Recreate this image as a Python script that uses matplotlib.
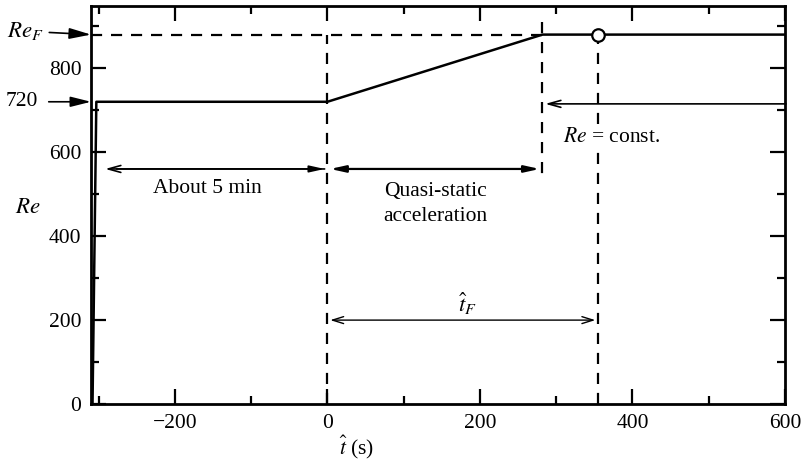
import matplotlib.pyplot as plt
from matplotlib.ticker import MultipleLocator

plt.rcParams['font.family'] = ['Liberation Serif', 'DejaVu Serif']
plt.rcParams['mathtext.fontset'] = 'stix'

# Re history: start-up, hold at 720, quasi-static ramp, hold at Re_F
t_curve = [-308, -303, 0, 282, 600]
re_curve = [0, 720, 720, 880, 880]

re_start = 720
re_final = 880
t_ramp_end = 282
t_final = 355
t_start = -300

x_ticks = [-200, 0, 200, 400, 600]
y_ticks = [0, 200, 400, 600, 800]

fs = 15.5

fig = plt.figure(figsize=(8.01, 4.65), dpi=100)
ax = fig.add_axes([0.1136, 0.131, 0.8664, 0.856])

ax.plot(t_curve, re_curve, color='black', lw=1.8)

dash = dict(color='black', lw=1.6, ls=(0, (5, 4)))
ax.plot([-310, t_ramp_end], [re_final, re_final], **dash)
ax.plot([0, 0], [0, re_final], **dash)
ax.plot([t_ramp_end, t_ramp_end], [910, 545], **dash)
ax.plot([t_final, t_final], [0, re_final], **dash)
ax.plot([t_final], [re_final], 'o', mfc='white', mec='black', ms=9, mew=1.6)

# interval arrows
ax.annotate('', xy=(t_start + 5, 560), xytext=(0, 560),
            arrowprops=dict(arrowstyle='->,head_length=0.9,head_width=0.25',
                            color='black', lw=1.2))
ax.annotate('', xy=(0, 560), xytext=(t_start + 20, 560),
            arrowprops=dict(arrowstyle='-|>,head_length=0.9,head_width=0.2',
                            color='black', lw=1.2))
ax.annotate('', xy=(0, 560), xytext=(t_ramp_end, 560),
            arrowprops=dict(arrowstyle='<|-|>,head_length=0.9,head_width=0.2',
                            color='black', lw=1.6))
ax.annotate('', xy=(0, 200), xytext=(t_final, 200),
            arrowprops=dict(arrowstyle='<->,head_length=0.8,head_width=0.25',
                            color='black', lw=1.0))
ax.annotate('', xy=(t_ramp_end, 715), xytext=(605, 715),
            arrowprops=dict(arrowstyle='->,head_length=0.9,head_width=0.25',
                            color='black', lw=1.2), annotation_clip=False)

ax.text(-157, 514, 'About 5 min', ha='center', va='center', fontsize=fs)
ax.text(142, 476, 'Quasi-static\nacceleration', ha='center', va='center',
        fontsize=fs, linespacing=1.45)
ax.text(309, 636, r'$Re$ = const.', ha='left', va='center', fontsize=fs,
        bbox=dict(facecolor='white', edgecolor='none', pad=0))
ax.text(184, 240, r'$\hat{t}_F$', ha='center', va='center', fontsize=16.5)

# labels with arrows pointing at the axis
ax.annotate(r'$Re_F$', xy=(-310, re_final), xytext=(-372, 888),
            ha='right', va='center', fontsize=16.5, annotation_clip=False,
            arrowprops=dict(arrowstyle='-|>,head_length=0.8,head_width=0.2',
                            color='black', lw=1.2, shrinkA=2, shrinkB=0))
ax.annotate('720', xy=(-310, re_start), xytext=(-380, re_start),
            ha='right', va='center', fontsize=fs, annotation_clip=False,
            arrowprops=dict(arrowstyle='-|>,head_length=0.8,head_width=0.2',
                            color='black', lw=1.2, shrinkA=6, shrinkB=0))

ax.set_xlim(-310, 600)
ax.set_ylim(0, 948)
ax.set_xticks(x_ticks)
ax.set_yticks(y_ticks)
ax.xaxis.set_minor_locator(MultipleLocator(100))
ax.yaxis.set_minor_locator(MultipleLocator(100))
ax.set_xticklabels(['\u2212200', '0', '200', '400', '600'])
ax.tick_params(which='both', direction='in', top=True, right=True,
               width=1.6, labelsize=fs, pad=7)
ax.tick_params(which='major', length=11)
ax.tick_params(which='minor', length=5.5)
for s in ax.spines.values():
    s.set_linewidth(2)

ax.text(-0.091, 0.495, r'$Re$', transform=ax.transAxes, ha='center',
        va='center', fontsize=16.5)
ax.text(0.383, -0.108, r'$\hat{t}$ (s)', transform=ax.transAxes, ha='center',
        va='center', fontsize=fs)

fig.savefig('out.png', dpi=100)
